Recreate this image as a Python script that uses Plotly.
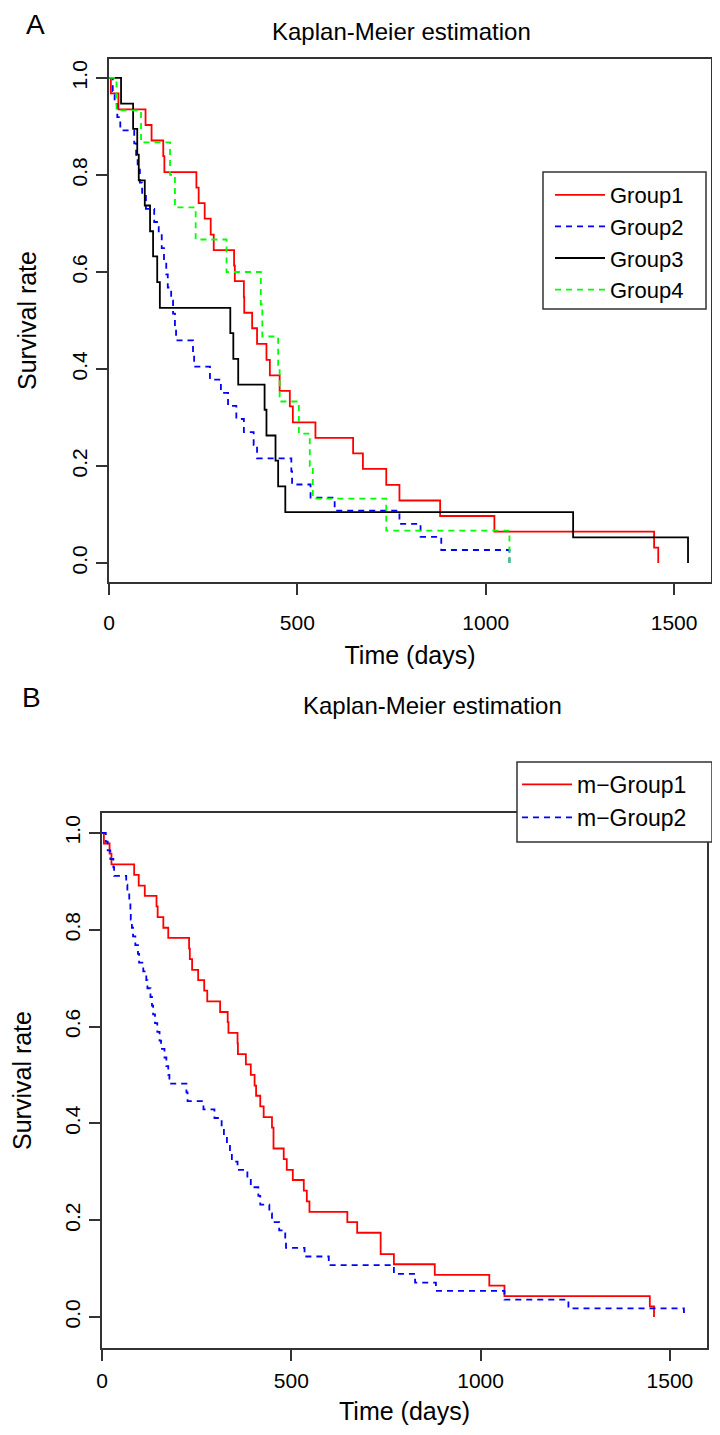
import plotly.graph_objects as go

# ---------------- Panel A data (time in days, survival rate) ----------------
g1_t = [0, 5, 25, 97, 113, 144, 147, 232, 238, 254, 270, 278, 332, 334, 358, 359, 380, 393, 418, 427,
        453, 480, 488, 548, 648, 674, 736, 771, 879, 1023, 1447, 1458]
g1_s = [1.000, 0.968, 0.935, 0.903, 0.871, 0.839, 0.806, 0.774, 0.742, 0.710, 0.677, 0.645, 0.613, 0.581,
        0.548, 0.516, 0.484, 0.452, 0.419, 0.387, 0.355, 0.323, 0.290, 0.258, 0.226, 0.194, 0.161, 0.129,
        0.097, 0.065, 0.032, 0.000]

g2_t = [0, 10, 15, 22, 30, 67, 72, 76, 82, 88, 98, 120, 132, 140, 146, 152, 156, 165, 170, 175, 178,
        223, 226, 268, 297, 316, 338, 358, 384, 393, 484, 486, 535, 599, 771, 827, 882, 1063]
g2_s = [1.000, 0.973, 0.946, 0.919, 0.892, 0.865, 0.838, 0.811, 0.784, 0.757, 0.730, 0.703, 0.676, 0.649,
        0.622, 0.595, 0.568, 0.541, 0.514, 0.486, 0.459, 0.432, 0.405, 0.378, 0.351, 0.324, 0.297, 0.270,
        0.243, 0.216, 0.189, 0.162, 0.135, 0.108, 0.081, 0.054, 0.027, 0.000]

g3_t = [0, 32, 64, 75, 79, 95, 109, 117, 128, 135, 322, 330, 343, 413, 418, 442, 449, 468, 1232, 1537]
g3_s = [1.000, 0.947, 0.895, 0.842, 0.789, 0.737, 0.684, 0.632, 0.579, 0.526, 0.474, 0.421, 0.368, 0.316,
        0.263, 0.211, 0.158, 0.105, 0.053, 0.000]

g4_t = [0, 20, 85, 162, 175, 230, 312, 403, 407, 449, 453, 504, 533, 541, 736, 1063]
g4_s = [1.000, 0.933, 0.867, 0.800, 0.733, 0.667, 0.600, 0.533, 0.467, 0.400, 0.333, 0.267, 0.200, 0.133,
        0.067, 0.000]

# ---------------- Panel B data ----------------
mg1_t = [0, 5, 20, 25, 85, 97, 113, 144, 147, 162, 175, 230, 232, 238, 254, 270, 278, 312, 332, 334,
         358, 359, 380, 393, 403, 407, 418, 427, 449, 453, 480, 488, 504, 533, 541, 548, 648, 674, 736,
         771, 879, 1023, 1063, 1447, 1458]
mg1_s = [1.000, 0.978, 0.957, 0.935, 0.913, 0.891, 0.870, 0.848, 0.826, 0.804, 0.783, 0.761, 0.739, 0.717,
         0.696, 0.674, 0.652, 0.630, 0.609, 0.587, 0.565, 0.543, 0.522, 0.500, 0.478, 0.457, 0.435, 0.413,
         0.391, 0.348, 0.326, 0.304, 0.283, 0.261, 0.239, 0.217, 0.196, 0.174, 0.130, 0.109, 0.087, 0.065,
         0.043, 0.022, 0.000]

mg2_t = [0, 10, 15, 22, 30, 32, 64, 67, 72, 75, 76, 79, 82, 88, 95, 98, 109, 117, 120, 128, 132, 135,
         140, 146, 152, 156, 165, 170, 175, 178, 223, 226, 268, 297, 316, 322, 330, 338, 343, 358, 384,
         393, 413, 418, 442, 449, 468, 484, 486, 535, 599, 771, 827, 882, 1063, 1232, 1537]
mg2_s = [1.000, 0.982, 0.964, 0.946, 0.929, 0.911, 0.893, 0.875, 0.857, 0.839, 0.821, 0.804, 0.786, 0.768,
         0.750, 0.732, 0.714, 0.696, 0.679, 0.661, 0.643, 0.625, 0.607, 0.589, 0.571, 0.554, 0.536, 0.518,
         0.500, 0.482, 0.464, 0.446, 0.429, 0.411, 0.393, 0.375, 0.357, 0.339, 0.321, 0.304, 0.286, 0.268,
         0.250, 0.232, 0.214, 0.196, 0.179, 0.161, 0.143, 0.125, 0.107, 0.089, 0.071, 0.054, 0.036, 0.018,
         0.000]

x_ticks = [0, 500, 1000, 1500]
y_ticks = [0.0, 0.2, 0.4, 0.6, 0.8, 1.0]
y_ticktext = ["0.0", "0.2", "0.4", "0.6", "0.8", "1.0"]

FONT = "Liberation Sans, Arial, sans-serif"
OFF = 8                      # page body margin of the html page
W, H = 720 - OFF, 1435 - OFF
LW = 1.8
DASH = "6px,5px"

fig = go.Figure()

def add(t, s, name, color, dash, xa, ya, legend):
    fig.add_trace(go.Scatter(x=t, y=s, mode="lines", name=name, line_shape="hv",
                             line=dict(color=color, width=LW, dash=dash),
                             xaxis=xa, yaxis=ya, legend=legend))

add(g1_t, g1_s, "Group1", "#FF0000", "solid", "x", "y", "legend")
add(g2_t, g2_s, "Group2", "#0000FF", DASH, "x", "y", "legend")
add(g3_t, g3_s, "Group3", "#000000", "solid", "x", "y", "legend")
add(g4_t, g4_s, "Group4", "#00FF00", DASH, "x", "y", "legend")
add(mg1_t, mg1_s, "m\u2212Group1", "#FF0000", "solid", "x2", "y2", "legend2")
add(mg2_t, mg2_s, "m\u2212Group2", "#0000FF", DASH, "x2", "y2", "legend2")

def px_x(p):
    return (p - OFF) / W

def px_y(p):
    return 1 - (p - OFF) / H

TICK_SIZE = 21
TITLE_SIZE = 25

axis_common = dict(showgrid=False, zeroline=False, showline=True, mirror=True,
                   linecolor="#333333", linewidth=1.5, ticks="outside", ticklen=11,
                   tickwidth=1.5, tickcolor="#333333",
                   tickfont=dict(family=FONT, size=TICK_SIZE, color="black"))

def note(text, x, y, size):
    return dict(text=text, x=px_x(x), y=px_y(y), xref="paper", yref="paper", showarrow=False,
                xanchor="center", yanchor="middle", font=dict(family=FONT, size=size, color="black"))

def legend_box(x0, y0, x1, y1):
    return dict(type="rect", xref="paper", yref="paper", layer="above",
                x0=px_x(x0), x1=px_x(x1), y0=px_y(y1), y1=px_y(y0),
                fillcolor="white", line=dict(color="#333333", width=1.5))

fig.update_layout(
    width=W, height=H,
    margin=dict(l=0, r=0, t=0, b=0, autoexpand=False),
    paper_bgcolor="white", plot_bgcolor="white",
    showlegend=True,
    xaxis=dict(domain=[px_x(109), px_x(711)], range=[0, 1598], tickvals=x_ticks,
               ticklabelstandoff=10,
               title=dict(text="Time (days)", font=dict(family=FONT, size=TITLE_SIZE, color="black"), standoff=14),
               anchor="y", **axis_common),
    yaxis=dict(domain=[px_y(582), px_y(59)], range=[-0.039, 1.039], tickvals=y_ticks,
               ticktext=y_ticktext, tickangle=-90, ticklabelstandoff=1,
               title=dict(text="Survival rate", font=dict(family=FONT, size=TITLE_SIZE, color="black"), standoff=24),
               anchor="x", **axis_common),
    xaxis2=dict(domain=[px_x(102), px_x(707)], range=[0, 1598], tickvals=x_ticks,
                ticklabelstandoff=2,
                title=dict(text="Time (days)", font=dict(family=FONT, size=TITLE_SIZE, color="black"), standoff=12),
                anchor="y2", **axis_common),
    yaxis2=dict(domain=[px_y(1348), px_y(813)], range=[-0.064, 1.041], tickvals=y_ticks,
                ticktext=y_ticktext, tickangle=-90, ticklabelstandoff=1,
                title=dict(text="Survival rate", font=dict(family=FONT, size=TITLE_SIZE, color="black"), standoff=22),
                anchor="x2", **axis_common),
    legend=dict(x=px_x(550), y=px_y(174), xanchor="left", yanchor="top",
                bgcolor="rgba(0,0,0,0)", borderwidth=0,
                font=dict(family=FONT, size=22, color="black"), itemwidth=50),
    legend2=dict(x=px_x(517), y=px_y(763), xanchor="left", yanchor="top",
                 bgcolor="rgba(0,0,0,0)", borderwidth=0,
                 font=dict(family=FONT, size=23, color="black"), itemwidth=50),
    shapes=[legend_box(543, 172, 706, 309), legend_box(517, 762, 712, 842)],
    annotations=[
        note("A", 35, 24, 28),
        note("B", 31, 697, 28),
        note("Kaplan-Meier estimation", 401, 31, 24),
        note("Kaplan-Meier estimation", 432, 705, 24),
    ],
)

fig.write_html("out.html")
